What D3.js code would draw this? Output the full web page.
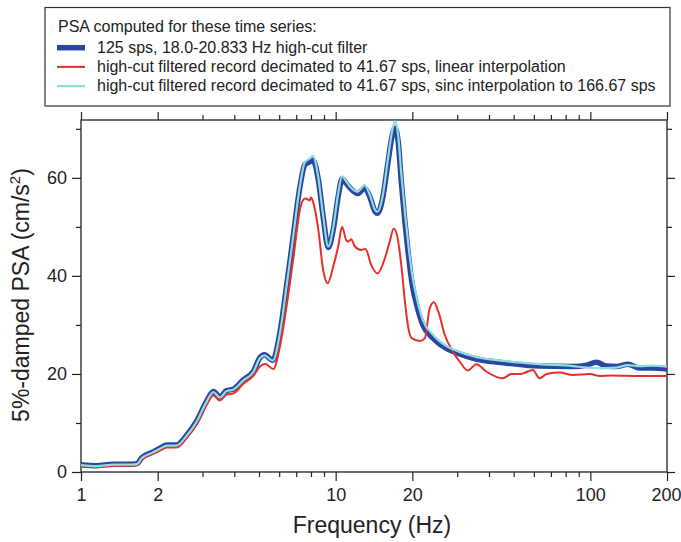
<!DOCTYPE html>
<html><head><meta charset="utf-8">
<script src="https://cdn.jsdelivr.net/npm/d3@7"></script>
<style>
body{margin:0;background:#fff;}
svg{font-family:"Liberation Sans",Arial,Helvetica,sans-serif;}
</style></head>
<body><svg id="c" width="681" height="542"></svg>
<script>
// ---- data ----
const freqBlue = [1.00,1.15,1.34,1.58,1.66,1.73,1.90,2.05,2.17,2.37,2.60,2.84,3.11,3.31,3.51,3.73,3.96,4.34,4.75,5.04,5.25,5.66,6.04,6.41,6.81,7.24,7.57,7.94,8.14,8.55,8.93,9.35,9.78,10.23,10.6,11.0,11.4,12.2,13.0,13.6,14.3,14.6,15.3,16.0,16.7,17.1,17.6,18.1,18.7,19.3,19.9,20.8,22.0,24.1,27.2,30.3,34.7,46.9,63.2,85.3,96.9,105.6,115.5,126.4,140.6,156,176,200];
const psaBlue = [1.5,1.3,1.6,1.6,1.7,2.9,4.0,4.9,5.5,5.5,7.5,10.3,14.4,16.4,15.3,16.6,16.9,18.8,20.5,23.3,23.9,22.8,28.4,37.8,48.0,58.2,62.7,63.3,63.6,59.6,52.1,45.8,49.4,56.2,59.8,58.9,57.9,56.8,57.9,56.2,53.1,52.8,55.9,62.7,68.8,70.1,67.4,59.2,51.1,44.3,38.8,34.1,30.0,27.3,25.2,24.2,23.2,22.2,21.6,21.5,21.8,22.4,21.6,21.5,22.0,21.2,21.2,21.0];
const psaCyan = [1.4,1.2,1.5,1.5,1.6,2.8,3.9,4.8,5.4,5.4,7.4,10.2,14.3,16.3,15.2,16.5,16.8,18.7,20.4,23.2,23.8,22.7,28.3,37.8,48.0,58.4,63.2,64.0,64.5,60.0,52.3,46.0,49.8,56.8,60.3,59.3,58.2,57.2,58.5,56.6,53.4,53.1,56.3,63.4,69.8,71.5,68.6,60.8,53.0,46.3,40.8,35.6,31.0,28.0,25.7,24.6,23.6,22.6,22.0,21.6,21.3,21.2,21.2,21.3,21.8,21.6,21.7,21.5];
const freqRed = [1.00,1.15,1.34,1.58,1.66,1.73,1.90,2.05,2.17,2.37,2.60,2.84,3.11,3.31,3.51,3.73,3.96,4.34,4.75,5.04,5.28,5.69,6.04,6.41,6.81,7.24,7.4,7.6,7.9,8.0,8.14,8.55,8.93,9.3,9.78,10.23,10.6,11.0,11.2,11.5,11.9,12.6,13.1,13.8,14.6,15.6,16.3,16.9,17.4,18.1,18.7,19.3,19.9,21.4,22.4,23.4,24.3,25.3,26.8,28.9,30.8,33.0,35.7,39.0,45.3,49.0,53.0,59.5,63.2,67.4,75.8,85.3,99.5,109,121,156,200];
const psaRed = [1.1,1.0,1.3,1.3,1.4,2.5,3.6,4.4,5.0,5.0,7.0,9.7,13.8,15.6,14.6,15.8,16.0,18.0,19.6,21.5,22.1,21.0,25.6,33.7,43.3,53.5,55.2,55.8,55.4,56.0,55.2,49.4,41.2,38.5,41.9,46.0,50.0,47.3,47.0,47.5,46.0,45.3,45.5,42.2,40.5,43.6,47.0,49.6,48.4,42.2,34.8,29.3,27.3,26.7,27.3,33.4,34.6,32.7,28.0,24.5,22.4,20.7,22.0,20.5,19.1,20.0,20.0,20.8,19.1,20.0,20.3,19.8,20.0,19.6,19.7,19.6,19.6];
const xMajorTicks = [1,2,10,20,100,200];
const xMinorTicks = [3,4,5,6,7,8,9,30,40,50,60,70,80,90];
const yMajorTicks = [0,20,40,60];
const yMinorTicks = [10,30,50,70];
const legendTitle = "PSA computed for these time series:";
const seriesNames = ["125 sps, 18.0-20.833 Hz high-cut filter",
  "high-cut filtered record decimated to 41.67 sps, linear interpolation",
  "high-cut filtered record decimated to 41.67 sps, sinc interpolation to 166.67 sps"];
const colors = ["#2b46a2","#e5302a","#8edfdb"];

// ---- layout ----
const svg = d3.select("#c");
const L=81,R=667,T=120,B=472;
const x = d3.scaleLog().domain([1,200]).range([L,R]);
const y = d3.scaleLinear().domain([0,71.8]).range([B,T]);
const axisColor="#222";

function styleAxis(g){
  g.selectAll(".domain").remove();
  g.selectAll("line").attr("stroke",axisColor).attr("stroke-width",1.2);
  g.selectAll("text").attr("fill","#222").style("font-size","18px");
}
const fmt = d=>String(d);
// bottom
const bx = svg.append("g").attr("transform",`translate(0,${B})`)
  .call(d3.axisBottom(x).tickValues(xMajorTicks).tickFormat(fmt).tickSize(9).tickPadding(7)).call(styleAxis);
// keep the last label inside the picture
bx.selectAll(".tick text").filter(d=>d===200).attr("text-anchor","end").attr("x",14);
svg.append("g").attr("transform",`translate(0,${B})`)
  .call(d3.axisBottom(x).tickValues(xMinorTicks).tickFormat("").tickSize(5)).call(styleAxis);
// top
svg.append("g").attr("transform",`translate(0,${T})`)
  .call(d3.axisTop(x).tickValues(xMajorTicks).tickFormat("").tickSize(8)).call(styleAxis);
svg.append("g").attr("transform",`translate(0,${T})`)
  .call(d3.axisTop(x).tickValues(xMinorTicks).tickFormat("").tickSize(5)).call(styleAxis);
// left
svg.append("g").attr("transform",`translate(${L},0)`)
  .call(d3.axisLeft(y).tickValues(yMajorTicks).tickFormat(fmt).tickSize(9).tickPadding(5)).call(styleAxis);
svg.append("g").attr("transform",`translate(${L},0)`)
  .call(d3.axisLeft(y).tickValues(yMinorTicks).tickFormat("").tickSize(5)).call(styleAxis);
// right
svg.append("g").attr("transform",`translate(${R},0)`)
  .call(d3.axisRight(y).tickValues(yMajorTicks).tickFormat("").tickSize(8)).call(styleAxis);
svg.append("g").attr("transform",`translate(${R},0)`)
  .call(d3.axisRight(y).tickValues(yMinorTicks).tickFormat("").tickSize(5)).call(styleAxis);

// frame
svg.append("rect").attr("x",L).attr("y",T).attr("width",R-L).attr("height",B-T)
  .attr("fill","none").attr("stroke",axisColor).attr("stroke-width",1.3);

// lines
const line = d3.line().x(d=>x(d[0])).y(d=>y(d[1])).curve(d3.curveMonotoneX);
const dataBlue = freqBlue.map((f,i)=>[f,psaBlue[i]]);
const dataCyan = freqBlue.map((f,i)=>[f,psaCyan[i]]);
const dataRed = freqRed.map((f,i)=>[f,psaRed[i]]);
svg.append("path").datum(dataBlue).attr("d",line).attr("fill","none").attr("stroke",colors[0]).attr("stroke-width",5.5).attr("stroke-linejoin","round");
svg.append("path").datum(dataRed).attr("d",line).attr("fill","none").attr("stroke",colors[1]).attr("stroke-width",2).attr("stroke-linejoin","round");
svg.append("path").datum(dataCyan).attr("d",line).attr("fill","none").attr("stroke",colors[2]).attr("stroke-width",2.2).attr("stroke-linejoin","round");

// axis titles
svg.append("text").attr("x",372).attr("y",533).attr("text-anchor","middle")
  .style("font-size","23px").attr("fill","#222").text("Frequency (Hz)");
const yt = svg.append("text").attr("transform",`translate(29,295) rotate(-90)`)
  .attr("text-anchor","middle").style("font-size","23px").attr("fill","#222");
yt.append("tspan").text("5%-damped PSA (cm/s");
yt.append("tspan").attr("dy",-9).style("font-size","15px").text("2");
yt.append("tspan").attr("dy",9).text(")");

// legend
const lg = svg.append("g");
lg.append("rect").attr("x",45).attr("y",7.5).attr("width",625).attr("height",98.5)
  .attr("fill","#fff").attr("stroke","#333").attr("stroke-width",1.2);
lg.append("text").attr("x",58).attr("y",32).style("font-size",
  "16px").attr("fill","#222").text(legendTitle);
const lw=[5.5,2,2.2];
seriesNames.forEach((s,i)=>{
  const yy = 47.7 + i*19.2;
  lg.append("line").attr("x1",57).attr("x2",85).attr("y1",yy).attr("y2",yy)
    .attr("stroke",colors[i]).attr("stroke-width",lw[i]);
  lg.append("text").attr("x",97).attr("y",yy+5).style("font-size","16px").attr("fill","#222").text(s);
});
</script></body></html>
